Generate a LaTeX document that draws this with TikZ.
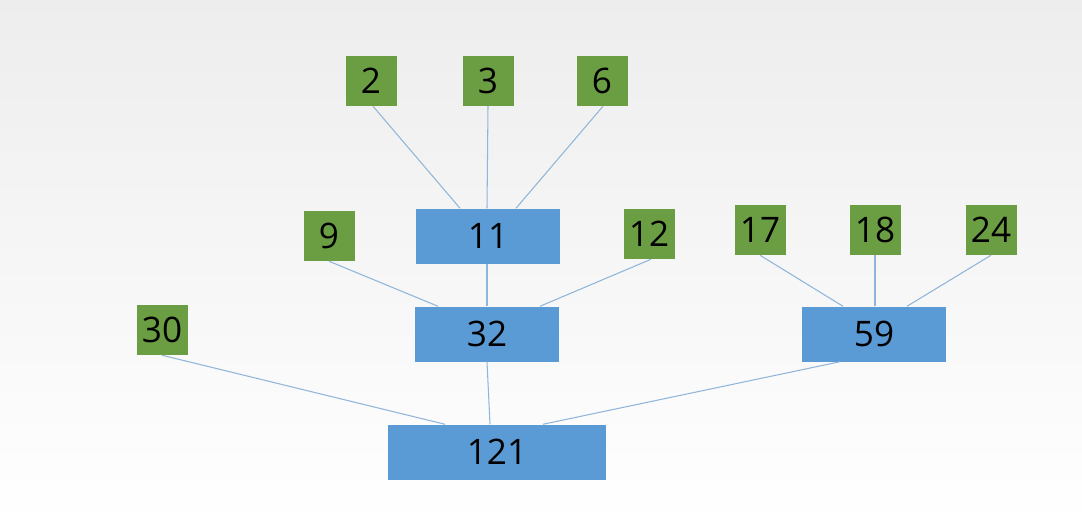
\documentclass[tikz,border=0pt]{standalone}
\usepackage{fontspec}
\setmainfont{Open Sans}
\usetikzlibrary{calc}
\definecolor{bl}{HTML}{5B9BD5}
\definecolor{gr}{HTML}{6B9E43}
\definecolor{ln}{HTML}{8FB6DA}
\begin{document}
\begin{tikzpicture}[x=0.03cm,y=-0.03cm,
  sq/.style={fill=gr,minimum width=1.53cm,minimum height=1.5cm,inner sep=0pt,font=\fontsize{30}{30}\selectfont},
  bx/.style={fill=bl,minimum width=4.32cm,minimum height=1.65cm,inner sep=0pt,font=\fontsize{30}{30}\selectfont},
  ed/.style={draw=ln,line width=0.9pt}]
\shade[top color=black!7,bottom color=white] (0,0) rectangle (1082,524);
\useasboundingbox (0,0) rectangle (1082,524);
\node[sq] (n2) at (371,81) {2};
\node[sq] (n3) at (488,81) {3};
\node[sq] (n6) at (602,81) {6};
\node[bx] (n11) at (488,236) {11};
\node[sq] (n9) at (329,236) {9};
\node[sq] (n12) at (649,234) {12};
\node[sq] (n17) at (760,230) {17};
\node[sq] (n18) at (875,230) {18};
\node[sq] (n24) at (991,230) {24};
\node[bx] (n32) at (487,334) {32};
\node[bx] (n59) at (874,334) {59};
\node[sq] (n30) at (162,330) {30};
\node[bx,minimum width=6.51cm] (n121) at (497,452) {121};
\draw[ed] ($(n2.south)+(2,0)$) -- ($(n11.north)+(-28,0)$);
\draw[ed] (n3.south) -- ($(n11.north)+(-1,0)$);
\draw[ed] ($(n6.south)+(1,0)$) -- ($(n11.north)+(28,0)$);
\draw[ed] (n9.south) -- ($(n32.north)+(-49,0)$);
\draw[ed] ($(n12.south)+(2,0)$) -- ($(n32.north)+(53,0)$);
\draw[ed] ($(n11.south)+(-1,0)$) -- (n32.north);
\draw[ed] (n17.south) -- ($(n59.north)+(-31,0)$);
\draw[ed] (n18.south) -- ($(n59.north)+(1,0)$);
\draw[ed] (n24.south) -- ($(n59.north)+(33,0)$);
\draw[ed] (n30.south) -- ($(n121.north)+(-52,0)$);
\draw[ed] (n32.south) -- ($(n121.north)+(-7,0)$);
\draw[ed] ($(n59.south)+(-34,0)$) -- ($(n121.north)+(46,0)$);
\end{tikzpicture}
\end{document}
